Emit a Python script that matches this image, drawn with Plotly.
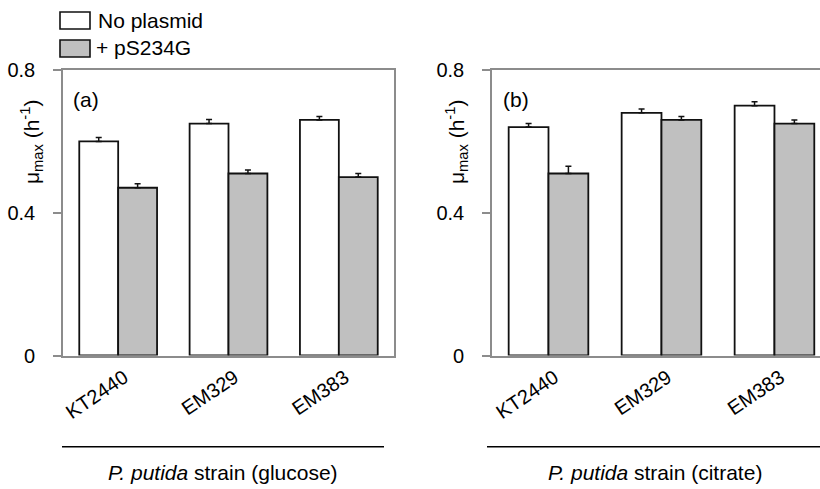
import plotly.graph_objects as go

strains = ["KT2440", "EM329", "EM383"]
series_names = ["No plasmid", "+ pS234G"]

glucose_no_plasmid = [0.60, 0.65, 0.66]
glucose_no_plasmid_err = [0.011, 0.011, 0.010]
glucose_ps234g = [0.47, 0.51, 0.50]
glucose_ps234g_err = [0.011, 0.010, 0.010]

citrate_no_plasmid = [0.64, 0.68, 0.70]
citrate_no_plasmid_err = [0.010, 0.011, 0.011]
citrate_ps234g = [0.51, 0.66, 0.65]
citrate_ps234g_err = [0.020, 0.010, 0.010]

y_ticks = [0, 0.4, 0.8]
y_ticklabels = ["0", "0.4", "0.8"]

FONT = "Liberation Sans, Arial, sans-serif"
FS = 21
FILLS = ["#ffffff", "#c0c0c0"]
AXIS_GRAY = "#8c8c8c"
W, H = 820, 489

fig = go.Figure()

def add_bars(vals, errs, fill, name, xa, ya):
    fig.add_trace(go.Bar(
        x=strains, y=vals, name=name, xaxis=xa, yaxis=ya,
        marker=dict(color=fill, line=dict(color="#111111", width=1.8)),
        error_y=dict(type="data", array=errs, arrayminus=[0] * len(errs),
                     symmetric=False, color="#111111", thickness=1.5, width=3),
        showlegend=False,
    ))

add_bars(glucose_no_plasmid, glucose_no_plasmid_err, FILLS[0], series_names[0], "x", "y")
add_bars(glucose_ps234g, glucose_ps234g_err, FILLS[1], series_names[1], "x", "y")
add_bars(citrate_no_plasmid, citrate_no_plasmid_err, FILLS[0], series_names[0], "x2", "y2")
add_bars(citrate_ps234g, citrate_ps234g_err, FILLS[1], series_names[1], "x2", "y2")

ydom = [(H - 355.5) / H, (H - 70) / H]

xcommon = dict(type="category", showline=True, linecolor=AXIS_GRAY, linewidth=1.6,
               ticks="", tickangle=-34, showgrid=False, zeroline=False,
               tickfont=dict(family=FONT, size=FS - 1, color="#000"),
               ticklabelstandoff=1, ticklabelshift=6, fixedrange=True, automargin=False)
ycommon = dict(range=[0, 0.8], tickvals=y_ticks, ticktext=y_ticklabels,
               showline=True, linecolor=AXIS_GRAY, linewidth=1.6,
               ticks="outside", ticklen=8, tickwidth=1.6, tickcolor=AXIS_GRAY,
               showgrid=False, zeroline=False,
               tickfont=dict(family=FONT, size=FS - 1, color="#000"),
               ticklabelstandoff=14, fixedrange=True, automargin=False)

fig.update_layout(
    template="none",
    width=W, height=H,
    margin=dict(l=0, r=0, t=0, b=0, pad=0, autoexpand=False),
    paper_bgcolor="white", plot_bgcolor="white",
    barmode="group", bargap=0.295, bargroupgap=0,
    showlegend=False,
    xaxis=dict(xcommon, domain=[63 / W, 394 / W], range=[-0.5, 2.5], mirror=True, anchor="y"),
    yaxis=dict(ycommon, domain=ydom, mirror=True, anchor="x"),
    xaxis2=dict(xcommon, domain=[492 / W, 1.0], range=[-0.5, 2.403], mirror=True, anchor="y2"),
    yaxis2=dict(ycommon, domain=ydom, mirror=False, anchor="x2"),
)

def px(x, y):
    return x / W, (H - y) / H

def note(x, y, text, xanchor="center", yanchor="middle", angle=0, size=FS):
    ax, ay = px(x, y)
    return dict(x=ax, y=ay, xref="paper", yref="paper", showarrow=False,
                xanchor=xanchor, yanchor=yanchor, textangle=angle, text=text,
                font=dict(family=FONT, size=size, color="#000"))

annots = []
# y-axis titles
for xp in (32, 457):
    annots.append(note(xp, 142, "μ<sub>max</sub> (h<sup>-1</sup>)", angle=-90))
# panel labels
annots.append(note(71, 99, "(a)", xanchor="left"))
annots.append(note(501, 99, "(b)", xanchor="left"))
# x-axis titles
annots.append(note(222.5, 472, "<i>P. putida</i> strain (glucose)"))
annots.append(note(655, 472, "<i>P. putida</i> strain (citrate)"))
# legend text
annots.append(note(96, 20, series_names[0], xanchor="left"))
annots.append(note(94, 48, series_names[1], xanchor="left"))

shapes = []
# separator lines under tick labels
for x0, x1 in ((62, 384), (487, 820)):
    a0, b0 = px(x0, 446.7)
    a1, _ = px(x1, 446.7)
    shapes.append(dict(type="line", xref="paper", yref="paper", x0=a0, x1=a1, y0=b0, y1=b0,
                       line=dict(color="#000", width=1.6)))
# legend swatches
for (y0, y1), fill in zip(((12, 29), (40, 57)), FILLS):
    a0, b0 = px(60, y0)
    a1, b1 = px(90, y1)
    shapes.append(dict(type="rect", xref="paper", yref="paper", x0=a0, x1=a1, y0=b1, y1=b0,
                       fillcolor=fill, line=dict(color="#111", width=1.6)))

fig.update_layout(annotations=annots, shapes=shapes)
fig.write_html("out.html")
